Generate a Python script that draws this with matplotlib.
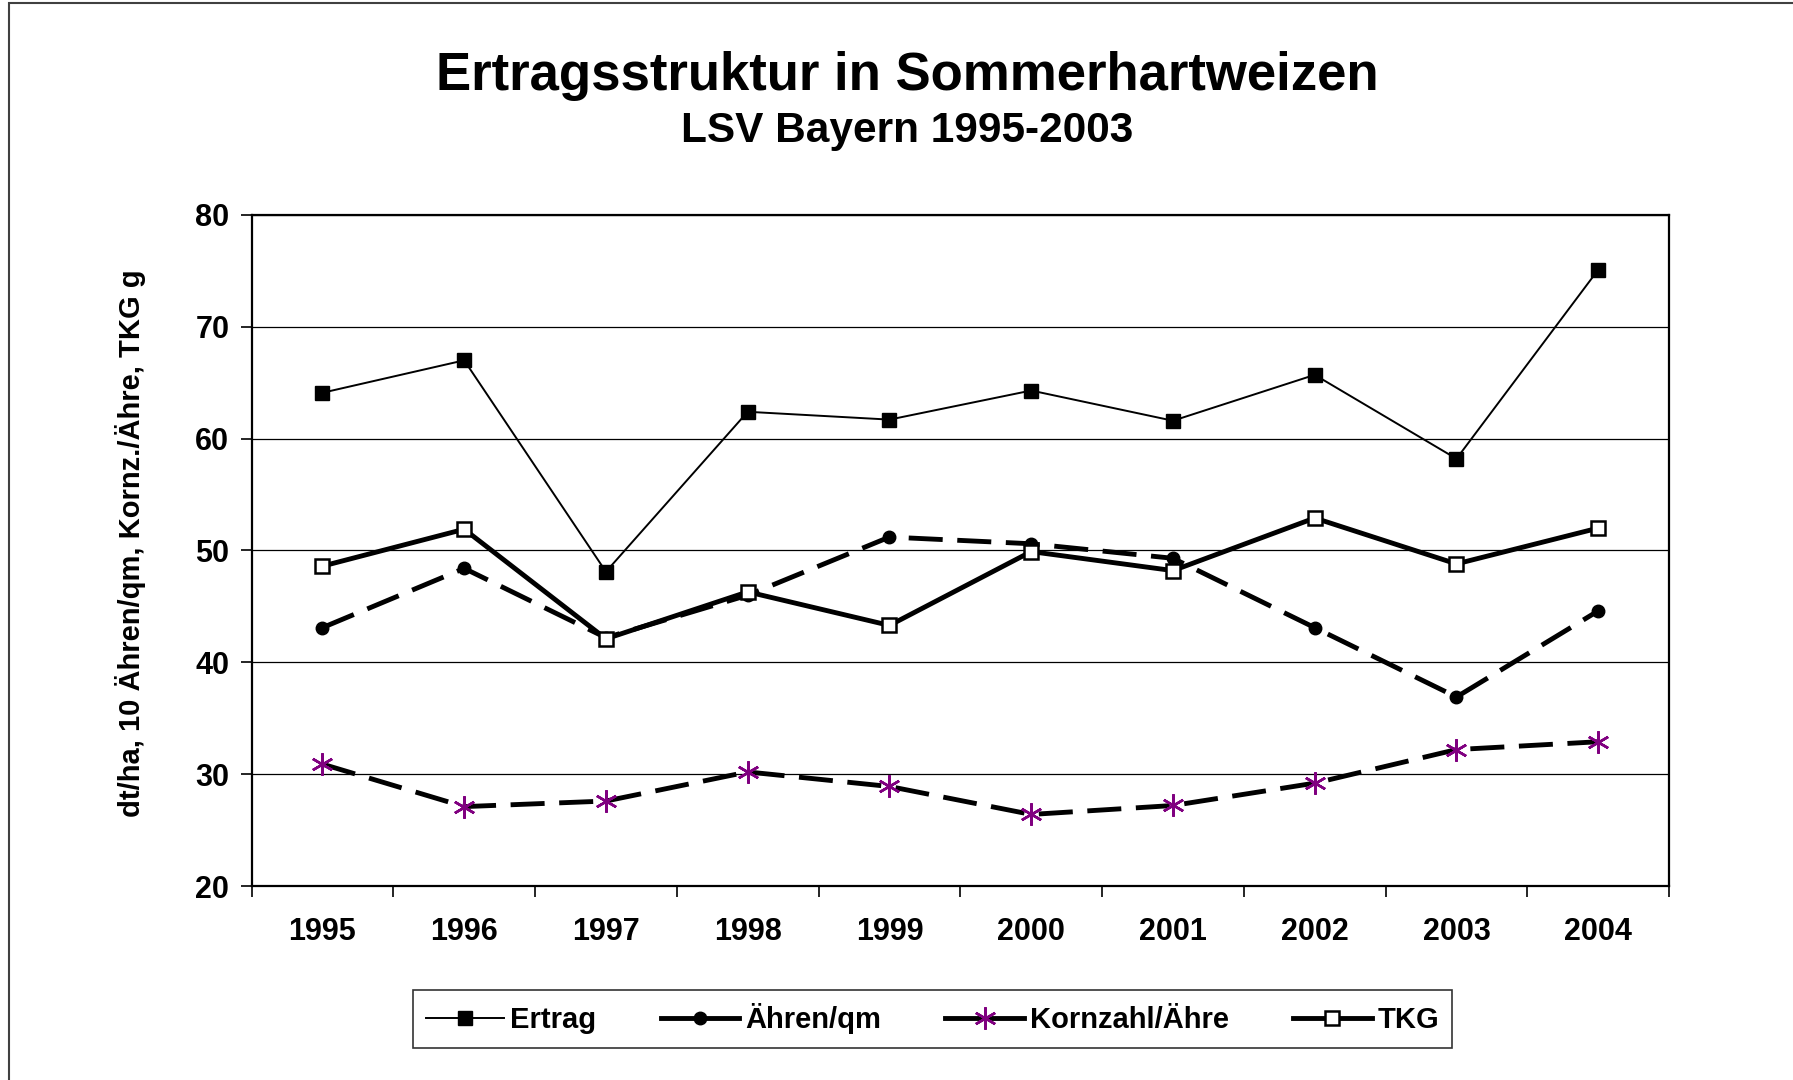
import matplotlib.pyplot as plt
from matplotlib.patches import Rectangle

years = ['1995', '1996', '1997', '1998', '1999', '2000', '2001', '2002', '2003', '2004']
ertrag = [64.1, 67.0, 48.1, 62.4, 61.7, 64.3, 61.6, 65.7, 58.2, 75.1]
aehren = [43.1, 48.4, 42.2, 46.0, 51.2, 50.6, 49.3, 43.1, 36.9, 44.6]
kornzahl = [30.9, 27.1, 27.6, 30.2, 28.9, 26.4, 27.2, 29.2, 32.2, 32.9]
tkg = [48.6, 51.9, 42.1, 46.3, 43.3, 49.9, 48.2, 52.9, 48.8, 52.0]

plt.rcParams['font.family'] = ['Liberation Sans', 'DejaVu Sans']
plt.rcParams['font.weight'] = 'bold'

fig = plt.figure(figsize=(17.93, 10.8), dpi=100)
ax = fig.add_axes([0.1403, 0.1796, 0.7906, 0.6214])

x = list(range(len(years)))
dash = (0, (7, 3))

ax.plot(x, ertrag, color='black', lw=1.4, marker='s', ms=10, mfc='black', mec='black', label='Ertrag')
ax.plot(x, aehren, color='black', lw=3.5, linestyle=dash, marker='o', ms=9, mfc='black', mec='black', label='Ähren/qm')
ax.plot(x, kornzahl, color='black', lw=3.5, linestyle=dash, marker=(6, 2, 0), ms=16, mec='#800080', mew=1.8, label='Kornzahl/Ähre')
ax.plot(x, tkg, color='black', lw=3.5, marker='s', ms=10, mfc='white', mec='black', mew=1.8, label='TKG')

ax.set_xlim(-0.5, len(years) - 0.5)
ax.set_ylim(20, 80)
ax.set_yticks(range(20, 81, 10))
ax.yaxis.grid(True, color='black', lw=0.9)
ax.set_axisbelow(True)

# year labels centred, ticks on category borders
ax.set_xticks(x)
ax.set_xticklabels(years, fontsize=22, fontweight='bold')
ax.tick_params(axis='x', which='major', length=0, pad=22)
ax.set_xticks([i - 0.5 for i in range(len(years) + 1)], minor=True)
ax.tick_params(axis='x', which='minor', length=8, width=1.2, direction='out')
ax.tick_params(axis='y', length=8, width=1.2, direction='out', labelsize=22, pad=8)
for lab in ax.get_yticklabels():
    lab.set_fontweight('bold')

for s in ax.spines.values():
    s.set_linewidth(1.6)

fig.text(0.073, 0.497, 'dt/ha, 10 Ähren/qm, Kornz./Ähre, TKG g', rotation=90,
         ha='center', va='center', fontsize=21, fontweight='bold')

fig.text(0.506, 0.930, 'Ertragsstruktur in Sommerhartweizen', ha='center', va='center',
         fontsize=38, fontweight='bold')
fig.text(0.506, 0.879, 'LSV Bayern 1995-2003', ha='center', va='center',
         fontsize=30.5, fontweight='bold')

leg = fig.legend(loc='center', bbox_to_anchor=(0.520, 0.0565), ncol=4, fontsize=21,
                 frameon=True, fancybox=False, edgecolor='black', handlelength=2.7,
                 columnspacing=2.2, handletextpad=0.2, borderpad=0.45, borderaxespad=0)
leg.get_frame().set_linewidth(1.2)
for h in leg.get_lines():
    h.set_linestyle('-')

fig.patches.append(Rectangle((9 / 1793, -0.05), 1.2, 1.05 - 3 / 1080, transform=fig.transFigure,
                             fill=False, edgecolor='#404040', lw=1.5))

fig.savefig('out.png', dpi=100)
